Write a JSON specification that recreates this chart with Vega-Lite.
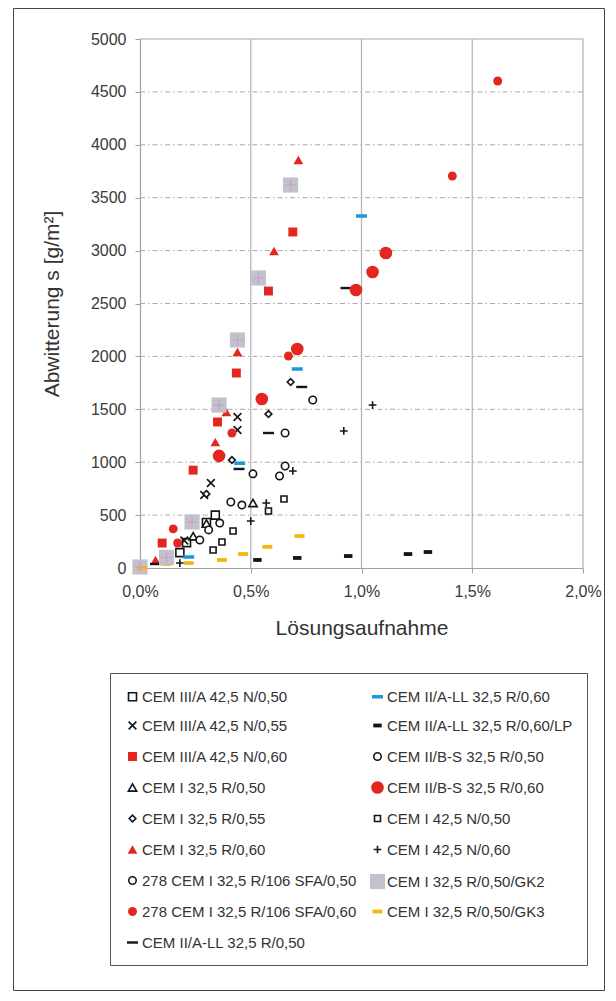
{
  "$schema": "https://vega.github.io/schema/vega-lite/v6.json",
  "width": 591,
  "height": 982,
  "autosize": {"type": "none"},
  "padding": {"left": 13, "top": 8, "right": 12, "bottom": 11},
  "background": "white",
  "config": {
    "view": {"stroke": "#444444", "strokeWidth": 1},
    "font": "Liberation Sans",
    "axis": {
      "labelFont": "Liberation Sans",
      "titleFont": "Liberation Sans",
      "labelFontSize": 16,
      "titleFontSize": 21,
      "titleFontWeight": "normal",
      "labelColor": "#3a3a3a",
      "titleColor": "#333333",
      "domainColor": "#A0A0A8",
      "tickColor": "#A0A0A8",
      "tickSize": 5,
      "domainWidth": 1.2,
      "grid": false,
      "labelFlush": false,
      "labelOverlap": false
    },
    "legend": {
      "gridAlign": {"row": "all", "column": "each"}
    }
  },
  "datasets": {
    "pts": [
      {"s": "CEM III/A 42,5 N/0,50", "x": 0.34, "y": 500},
      {"s": "CEM III/A 42,5 N/0,50", "x": 0.30, "y": 430},
      {"s": "CEM III/A 42,5 N/0,50", "x": 0.21, "y": 240},
      {"s": "CEM III/A 42,5 N/0,50", "x": 0.18, "y": 145},
      {"s": "CEM III/A 42,5 N/0,55", "x": 0.44, "y": 1427},
      {"s": "CEM III/A 42,5 N/0,55", "x": 0.44, "y": 1304},
      {"s": "CEM III/A 42,5 N/0,55", "x": 0.32, "y": 803},
      {"s": "CEM III/A 42,5 N/0,55", "x": 0.29, "y": 690},
      {"s": "CEM III/A 42,5 N/0,55", "x": 0.20, "y": 260},
      {"s": "CEM III/A 42,5 N/0,60", "x": 0.69, "y": 3176},
      {"s": "CEM III/A 42,5 N/0,60", "x": 0.58, "y": 2618},
      {"s": "CEM III/A 42,5 N/0,60", "x": 0.435, "y": 1843},
      {"s": "CEM III/A 42,5 N/0,60", "x": 0.35, "y": 1380},
      {"s": "CEM III/A 42,5 N/0,60", "x": 0.24, "y": 925},
      {"s": "CEM III/A 42,5 N/0,60", "x": 0.10, "y": 236},
      {"s": "CEM I 32,5 R/0,50", "x": 0.51, "y": 614},
      {"s": "CEM I 32,5 R/0,50", "x": 0.30, "y": 420},
      {"s": "CEM I 32,5 R/0,50", "x": 0.24, "y": 300},
      {"s": "CEM I 32,5 R/0,55", "x": 0.68, "y": 1758},
      {"s": "CEM I 32,5 R/0,55", "x": 0.58, "y": 1455},
      {"s": "CEM I 32,5 R/0,55", "x": 0.415, "y": 1020},
      {"s": "CEM I 32,5 R/0,55", "x": 0.30, "y": 700},
      {"s": "CEM I 32,5 R/0,60", "x": 0.715, "y": 3856},
      {"s": "CEM I 32,5 R/0,60", "x": 0.605, "y": 2996},
      {"s": "CEM I 32,5 R/0,60", "x": 0.44, "y": 2042},
      {"s": "CEM I 32,5 R/0,60", "x": 0.39, "y": 1475},
      {"s": "CEM I 32,5 R/0,60", "x": 0.34, "y": 1190},
      {"s": "CEM I 32,5 R/0,60", "x": 0.07, "y": 76},
      {"s": "278 CEM I 32,5 R/106 SFA/0,50", "x": 0.41, "y": 624},
      {"s": "278 CEM I 32,5 R/106 SFA/0,50", "x": 0.46, "y": 595},
      {"s": "278 CEM I 32,5 R/106 SFA/0,50", "x": 0.36, "y": 425},
      {"s": "278 CEM I 32,5 R/106 SFA/0,50", "x": 0.31, "y": 360},
      {"s": "278 CEM I 32,5 R/106 SFA/0,50", "x": 0.27, "y": 265},
      {"s": "278 CEM I 32,5 R/106 SFA/0,60", "x": 1.615, "y": 4603},
      {"s": "278 CEM I 32,5 R/106 SFA/0,60", "x": 1.41, "y": 3705},
      {"s": "278 CEM I 32,5 R/106 SFA/0,60", "x": 0.67, "y": 2004},
      {"s": "278 CEM I 32,5 R/106 SFA/0,60", "x": 0.415, "y": 1276},
      {"s": "278 CEM I 32,5 R/106 SFA/0,60", "x": 0.15, "y": 370},
      {"s": "278 CEM I 32,5 R/106 SFA/0,60", "x": 0.17, "y": 236},
      {"s": "CEM II/A-LL 32,5 R/0,50", "x": 0.93, "y": 2646},
      {"s": "CEM II/A-LL 32,5 R/0,50", "x": 0.73, "y": 1711},
      {"s": "CEM II/A-LL 32,5 R/0,50", "x": 0.58, "y": 1276},
      {"s": "CEM II/A-LL 32,5 R/0,50", "x": 0.447, "y": 936},
      {"s": "CEM II/A-LL 32,5 R/0,50", "x": 0.07, "y": 38},
      {"s": "CEM II/A-LL 32,5 R/0,60", "x": 1.0, "y": 3327},
      {"s": "CEM II/A-LL 32,5 R/0,60", "x": 0.71, "y": 1881},
      {"s": "CEM II/A-LL 32,5 R/0,60", "x": 0.45, "y": 990},
      {"s": "CEM II/A-LL 32,5 R/0,60", "x": 0.22, "y": 104},
      {"s": "CEM II/A-LL 32,5 R/0,60/LP", "x": 0.53, "y": 76},
      {"s": "CEM II/A-LL 32,5 R/0,60/LP", "x": 0.71, "y": 95},
      {"s": "CEM II/A-LL 32,5 R/0,60/LP", "x": 0.94, "y": 113},
      {"s": "CEM II/A-LL 32,5 R/0,60/LP", "x": 1.21, "y": 132},
      {"s": "CEM II/A-LL 32,5 R/0,60/LP", "x": 1.30, "y": 151},
      {"s": "CEM II/B-S 32,5 R/0,50", "x": 0.78, "y": 1588},
      {"s": "CEM II/B-S 32,5 R/0,50", "x": 0.655, "y": 1276},
      {"s": "CEM II/B-S 32,5 R/0,50", "x": 0.655, "y": 964},
      {"s": "CEM II/B-S 32,5 R/0,50", "x": 0.63, "y": 870},
      {"s": "CEM II/B-S 32,5 R/0,50", "x": 0.51, "y": 890},
      {"s": "CEM II/B-S 32,5 R/0,60", "x": 1.11, "y": 2977},
      {"s": "CEM II/B-S 32,5 R/0,60", "x": 1.05, "y": 2798},
      {"s": "CEM II/B-S 32,5 R/0,60", "x": 0.975, "y": 2628},
      {"s": "CEM II/B-S 32,5 R/0,60", "x": 0.71, "y": 2070},
      {"s": "CEM II/B-S 32,5 R/0,60", "x": 0.55, "y": 1597},
      {"s": "CEM II/B-S 32,5 R/0,60", "x": 0.357, "y": 1060},
      {"s": "CEM I 42,5 N/0,50", "x": 0.65, "y": 652},
      {"s": "CEM I 42,5 N/0,50", "x": 0.58, "y": 539},
      {"s": "CEM I 42,5 N/0,50", "x": 0.42, "y": 350},
      {"s": "CEM I 42,5 N/0,50", "x": 0.37, "y": 246},
      {"s": "CEM I 42,5 N/0,50", "x": 0.33, "y": 170},
      {"s": "CEM I 42,5 N/0,60", "x": 1.05, "y": 1540},
      {"s": "CEM I 42,5 N/0,60", "x": 0.92, "y": 1295},
      {"s": "CEM I 42,5 N/0,60", "x": 0.69, "y": 917},
      {"s": "CEM I 42,5 N/0,60", "x": 0.57, "y": 614},
      {"s": "CEM I 42,5 N/0,60", "x": 0.50, "y": 444},
      {"s": "CEM I 42,5 N/0,60", "x": 0.18, "y": 47},
      {"s": "CEM I 32,5 R/0,50/GK3", "x": 0.72, "y": 302},
      {"s": "CEM I 32,5 R/0,50/GK3", "x": 0.575, "y": 200},
      {"s": "CEM I 32,5 R/0,50/GK3", "x": 0.465, "y": 132},
      {"s": "CEM I 32,5 R/0,50/GK3", "x": 0.37, "y": 76},
      {"s": "CEM I 32,5 R/0,50/GK3", "x": 0.22, "y": 47},
      {"s": "CEM I 32,5 R/0,50/GK3", "x": 0.12, "y": 38},
      {"s": "CEM I 32,5 R/0,50/GK2", "x": 0.68, "y": 3620},
      {"s": "CEM I 32,5 R/0,50/GK2", "x": 0.535, "y": 2741},
      {"s": "CEM I 32,5 R/0,50/GK2", "x": 0.44, "y": 2155},
      {"s": "CEM I 32,5 R/0,50/GK2", "x": 0.357, "y": 1540},
      {"s": "CEM I 32,5 R/0,50/GK2", "x": 0.235, "y": 435},
      {"s": "CEM I 32,5 R/0,50/GK2", "x": 0.12, "y": 100},
      {"s": "CEM I 32,5 R/0,50/GK2", "x": 0.0, "y": 10},
      {"s": "CEM I 32,5 R/0,50/GK3", "x": 0.01, "y": 0}
    ],
    "hgrid": [
      {"y": 500, "x": 0, "x2": 2}, {"y": 1000, "x": 0, "x2": 2}, {"y": 1500, "x": 0, "x2": 2},
      {"y": 2000, "x": 0, "x2": 2}, {"y": 2500, "x": 0, "x2": 2}, {"y": 3000, "x": 0, "x2": 2},
      {"y": 3500, "x": 0, "x2": 2}, {"y": 4000, "x": 0, "x2": 2}, {"y": 4500, "x": 0, "x2": 2}
    ],
    "frame": [{"y": 5000, "x": 0, "x2": 2}],
    "vgrid": [
      {"x": 0.5, "y": 0, "y2": 5000}, {"x": 1.0, "y": 0, "y2": 5000},
      {"x": 1.5, "y": 0, "y2": 5000}, {"x": 2.0, "y": 0, "y2": 5000}
    ]
  },
  "layer": [
    {
      "data": {"name": "hgrid"},
      "mark": {"type": "rule", "color": "#A8A8A8", "strokeWidth": 1, "strokeDash": [5, 3, 1.5, 3]},
      "encoding": {
        "x": {"field": "x", "type": "quantitative", "scale": {"domain": [0, 2], "range": [127, 570], "nice": false, "zero": false},
          "axis": {"values": [0, 0.5, 1, 1.5, 2], "labelExpr": "replace(format(datum.value, '.1f'), '.', ',') + '%'", "offset": -422, "labelPadding": 10, "titlePadding": 18, "title": "Lösungsaufnahme"}},
        "x2": {"field": "x2"},
        "y": {"field": "y", "type": "quantitative", "scale": {"domain": [0, 5000], "range": [560, 31], "nice": false, "zero": false},
          "axis": {"values": [0, 500, 1000, 1500, 2000, 2500, 3000, 3500, 4000, 4500, 5000], "format": "d", "offset": -127, "labelPadding": 9, "titlePadding": 28, "title": "Abwitterung s [g/m²]"}}
      }
    },
    {
      "data": {"name": "frame"},
      "mark": {"type": "rule", "color": "#A8A8B0", "strokeWidth": 1.2},
      "encoding": {
        "x": {"field": "x", "type": "quantitative"},
        "x2": {"field": "x2"},
        "y": {"field": "y", "type": "quantitative"}
      }
    },
    {
      "data": {"name": "vgrid"},
      "mark": {"type": "rule", "color": "#B0B0B8", "strokeWidth": 1.2},
      "encoding": {
        "x": {"field": "x", "type": "quantitative"},
        "y": {"field": "y", "type": "quantitative"},
        "y2": {"field": "y2"}
      }
    },
    {
      "data": {"name": "pts"},
      "mark": {"type": "point", "filled": true, "opacity": 1, "strokeWidth": 1.6},
      "encoding": {
        "x": {"field": "x", "type": "quantitative"},
        "y": {"field": "y", "type": "quantitative"},
        "shape": {"field": "s", "type": "nominal",
          "scale": {"domain": ["CEM III/A 42,5 N/0,50", "CEM III/A 42,5 N/0,55", "CEM III/A 42,5 N/0,60", "CEM I 32,5 R/0,50", "CEM I 32,5 R/0,55", "CEM I 32,5 R/0,60", "278 CEM I 32,5 R/106 SFA/0,50", "278 CEM I 32,5 R/106 SFA/0,60", "CEM II/A-LL 32,5 R/0,50", "CEM II/A-LL 32,5 R/0,60", "CEM II/A-LL 32,5 R/0,60/LP", "CEM II/B-S 32,5 R/0,50", "CEM II/B-S 32,5 R/0,60", "CEM I 42,5 N/0,50", "CEM I 42,5 N/0,60", "CEM I 32,5 R/0,50/GK2", "CEM I 32,5 R/0,50/GK3"],
            "range": ["square", "M-1,-1L1,1M-1,1L1,-1", "square", "triangle-up", "diamond", "triangle-up", "circle", "circle", "M-1,-0.22H1V0.22H-1Z", "M-1,-0.32H1V0.32H-1Z", "M-1,-0.45H1V0.45H-1Z", "circle", "circle", "square", "M-1,0H1M0,-1V1", "square", "M-1,-0.38H1V0.38H-1Z"]},
          "legend": {"title": null, "orient": "none", "legendX": 97, "legendY": 665, "columns": 2, "columnPadding": 9, "rowPadding": 8, "padding": 14, "strokeColor": "#555555", "labelFont": "Liberation Sans", "labelFontSize": 15, "labelColor": "#333333", "labelOffset": 1, "labelLimit": 400, "symbolStrokeWidth": 1.6, "symbolOpacity": 1}},
        "fill": {"field": "s", "type": "nominal",
          "scale": {"domain": ["CEM III/A 42,5 N/0,50", "CEM III/A 42,5 N/0,55", "CEM III/A 42,5 N/0,60", "CEM I 32,5 R/0,50", "CEM I 32,5 R/0,55", "CEM I 32,5 R/0,60", "278 CEM I 32,5 R/106 SFA/0,50", "278 CEM I 32,5 R/106 SFA/0,60", "CEM II/A-LL 32,5 R/0,50", "CEM II/A-LL 32,5 R/0,60", "CEM II/A-LL 32,5 R/0,60/LP", "CEM II/B-S 32,5 R/0,50", "CEM II/B-S 32,5 R/0,60", "CEM I 42,5 N/0,50", "CEM I 42,5 N/0,60", "CEM I 32,5 R/0,50/GK2", "CEM I 32,5 R/0,50/GK3"],
            "range": ["#ffffff", "transparent", "#E3261F", "#ffffff", "#ffffff", "#E3261F", "#ffffff", "#E3261F", "#151515", "#1B9AD6", "#151515", "#ffffff", "#E3261F", "#ffffff", "transparent", "#C2C2CA", "#F6B712"]},
          "legend": {"title": null, "orient": "none", "legendX": 97, "legendY": 665, "columns": 2, "columnPadding": 9, "rowPadding": 8, "padding": 14, "strokeColor": "#555555", "labelFont": "Liberation Sans", "labelFontSize": 15, "labelColor": "#333333", "labelOffset": 1, "labelLimit": 400, "symbolStrokeWidth": 1.6, "symbolOpacity": 1}},
        "stroke": {"field": "s", "type": "nominal",
          "scale": {"domain": ["CEM III/A 42,5 N/0,50", "CEM III/A 42,5 N/0,55", "CEM III/A 42,5 N/0,60", "CEM I 32,5 R/0,50", "CEM I 32,5 R/0,55", "CEM I 32,5 R/0,60", "278 CEM I 32,5 R/106 SFA/0,50", "278 CEM I 32,5 R/106 SFA/0,60", "CEM II/A-LL 32,5 R/0,50", "CEM II/A-LL 32,5 R/0,60", "CEM II/A-LL 32,5 R/0,60/LP", "CEM II/B-S 32,5 R/0,50", "CEM II/B-S 32,5 R/0,60", "CEM I 42,5 N/0,50", "CEM I 42,5 N/0,60", "CEM I 32,5 R/0,50/GK2", "CEM I 32,5 R/0,50/GK3"],
            "range": ["#151515", "#151515", "transparent", "#151515", "#151515", "transparent", "#151515", "transparent", "transparent", "transparent", "transparent", "#151515", "transparent", "#151515", "#151515", "transparent", "transparent"]},
          "legend": {"title": null, "orient": "none", "legendX": 97, "legendY": 665, "columns": 2, "columnPadding": 9, "rowPadding": 8, "padding": 14, "strokeColor": "#555555", "labelFont": "Liberation Sans", "labelFontSize": 15, "labelColor": "#333333", "labelOffset": 1, "labelLimit": 400, "symbolStrokeWidth": 1.6, "symbolOpacity": 1}},
        "size": {"field": "s", "type": "nominal",
          "scale": {"type": "ordinal", "domain": ["CEM III/A 42,5 N/0,50", "CEM III/A 42,5 N/0,55", "CEM III/A 42,5 N/0,60", "CEM I 32,5 R/0,50", "CEM I 32,5 R/0,55", "CEM I 32,5 R/0,60", "278 CEM I 32,5 R/106 SFA/0,50", "278 CEM I 32,5 R/106 SFA/0,60", "CEM II/A-LL 32,5 R/0,50", "CEM II/A-LL 32,5 R/0,60", "CEM II/A-LL 32,5 R/0,60/LP", "CEM II/B-S 32,5 R/0,50", "CEM II/B-S 32,5 R/0,60", "CEM I 42,5 N/0,50", "CEM I 42,5 N/0,60", "CEM I 32,5 R/0,50/GK2", "CEM I 32,5 R/0,50/GK3"],
            "range": [64, 60, 80, 70, 45, 95, 55, 80, 121, 121, 72, 55, 160, 36, 60, 230, 100]},
          "legend": {"title": null, "orient": "none", "legendX": 97, "legendY": 665, "columns": 2, "columnPadding": 9, "rowPadding": 8, "padding": 14, "strokeColor": "#555555", "labelFont": "Liberation Sans", "labelFontSize": 15, "labelColor": "#333333", "labelOffset": 1, "labelLimit": 400, "symbolStrokeWidth": 1.6, "symbolOpacity": 1}}
      }
    },
    {
      "data": {"name": "pts"},
      "transform": [{"filter": "datum.s === 'CEM I 32,5 R/0,50/GK2'"}],
      "mark": {"type": "point", "shape": "M-1,0H1M0,-1V1", "size": 110, "stroke": "#C89CD0", "strokeWidth": 1.2, "fill": "transparent", "opacity": 1},
      "encoding": {
        "x": {"field": "x", "type": "quantitative"},
        "y": {"field": "y", "type": "quantitative"}
      }
    }
  ]
}
